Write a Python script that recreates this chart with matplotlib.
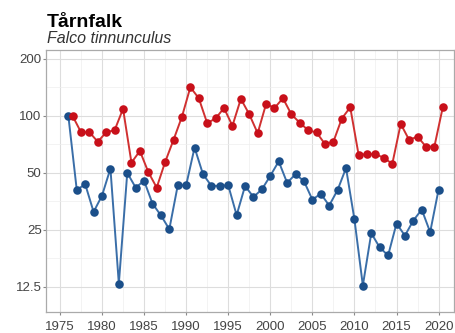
import numpy as np
import matplotlib
matplotlib.use("Agg")
import matplotlib.pyplot as plt
from matplotlib.ticker import FixedLocator, NullFormatter

plt.rcParams['font.family'] = ['Liberation Sans', 'DejaVu Sans']

years = list(range(1976, 2021))
red_values = [100, 82, 82, 73, 82, 84, 109, 56.6, 65.3, 50.5, 41.8, 57, 74.7, 99,
              141.7, 124, 91.5, 97, 110, 88.6, 123, 102, 81, 115.7, 110, 124, 102,
              92, 84, 81.7, 71, 73, 96.8, 111, 62.2, 62.8, 62.8, 60, 55.8, 90.7,
              74.7, 77.7, 68.8, 68.8, 111]
blue_values = [100, 40.6, 43.6, 31.1, 37.9, 52.7, 13.0, 50, 41.8, 45.4, 34.4, 29.8,
               25.2, 42.9, 43, 68, 49.2, 42.7, 42.7, 43, 29.9, 42.6, 37.3, 40.9, 48.2,
               57.5, 44.3, 49.2, 45.2, 36.1, 38.8, 33.6, 40.6, 53, 28.4, 12.7, 24,
               20.2, 18.3, 27, 23.3, 28, 32, 24.3, 40.8]
y_ticks = [12.5, 25, 50, 100, 200]
y_tick_labels = ["12.5", "25", "50", "100", "200"]
x_ticks = list(range(1975, 2021, 5))
title = "Tårnfalk"
subtitle = "Falco tinnunculus"

red_color = "#C8101A"
blue_color = "#1B4F8A"
red_offset = 0.5

fig = plt.figure(figsize=(4.56, 3.33), dpi=100)
ax = fig.add_axes([0.101, 0.063, 0.894, 0.787])
ax.set_yscale("log", base=2)

ax.plot(years, blue_values, color="#3A6EA8", lw=1.4, zorder=3)
ax.scatter(years, blue_values, s=38, color=blue_color, zorder=4, linewidths=0)
red_x = [y + red_offset for y in years]
ax.plot(red_x, red_values, color="#D03030", lw=1.4, zorder=3)
ax.scatter(red_x, red_values, s=38, color=red_color, zorder=4, linewidths=0)

ax.set_xlim(1973.35, 2021.8)
ax.set_ylim(9.2, 223)
ax.yaxis.set_major_locator(FixedLocator(y_ticks))
ax.set_yticklabels(y_tick_labels)
ax.yaxis.set_minor_locator(FixedLocator([t * np.sqrt(2) for t in y_ticks]))
ax.yaxis.set_minor_formatter(NullFormatter())
ax.xaxis.set_major_locator(FixedLocator(x_ticks))
ax.xaxis.set_minor_locator(FixedLocator([t + 2.5 for t in x_ticks]))

ax.grid(which="major", color="#DDDDDD", lw=0.8)
ax.grid(which="minor", color="#EEEEEE", lw=0.5)
ax.set_axisbelow(True)
for s in ax.spines.values():
    s.set_color("#AAAAAA")
    s.set_linewidth(0.9)
ax.tick_params(which="major", length=2.2, color="#888888", labelsize=9.5, labelcolor="#444444")
ax.tick_params(axis="y", pad=1)
ax.tick_params(axis="x", pad=4)
ax.tick_params(which="minor", length=0)

fig.text(0.102, 0.920, title, fontsize=14, fontweight="bold", ha="left", va="baseline")
fig.text(0.102, 0.870, subtitle, fontsize=11.5, style="italic", color="#333333", ha="left", va="baseline")

fig.savefig("out.png", dpi=100)
